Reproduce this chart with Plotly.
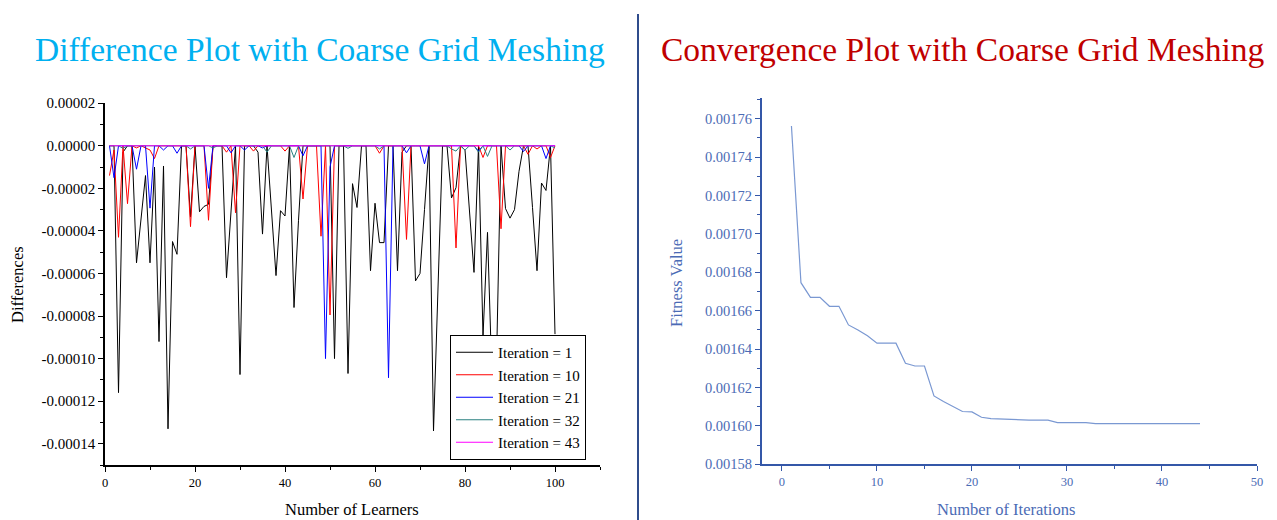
import plotly.graph_objects as go

# ---------------- data ----------------
learners = list(range(1, 101))

# Differences (units of 1e-5)
iter1 = [0, 0, -11.6, -0.3, 0, 0, -5.5, -3.45, -1.4, -5.5,
         -1.0, -9.2, -0.95, -13.3, -4.5, -5.1, 0, 0, -3.35, 0,
         -3.1, -2.85, -2.75, 0, 0, 0, -6.2, -3.0, 0, -10.75,
         0, 0, 0, -0.3, -4.15, 0, -3.0, -6.1, -3.05, -3.3,
         0, -7.6, -3.5, 0, 0, 0, 0, 0, 0, 0,
         -10.0, 0, 0, -10.7, -1.78, -2.9, 0, 0, -5.87, -2.7,
         -4.55, -4.55, 0, 0, -5.87, -0.3, 0, 0, -6.35, -6.0,
         -3.0, 0, -13.4, -6.7, 0, 0, -2.45, -1.97, 0, -0.2,
         -3.0, -5.95, 0, -8.95, -4.07, -11.0, -10.2, 0, -2.95, -3.4,
         -3.0, -1.2, 0, 0, -2.9, -5.87, -1.75, -2.1, 0, -8.85]

iter10 = [-1.4, -0.2, -4.3, 0, -2.72, 0, -0.1, 0, -0.1, -0.2,
          -0.6, 0, 0, 0, 0, 0, 0, 0, -3.8, 0,
          0, 0, -3.5, 0, 0, 0, -0.3, 0, -3.15, 0,
          0, 0, -0.25, 0, 0, 0, 0, 0, 0, -0.25,
          0, 0, 0, -2.5, 0, 0, 0, -4.25, 0, -7.95,
          0, 0, 0, 0, 0, 0, 0, 0, 0, 0,
          -0.35, 0, 0, 0, 0, 0, -4.4, 0, 0, 0,
          0, 0, 0, 0, 0, 0, 0, -4.8, 0, 0,
          0, 0, 0, -0.55, 0, 0, 0, -3.9, 0, 0,
          0, 0, 0, -0.4, 0, -0.15, 0, 0, -0.55, 0]

iter21 = [0, -1.5, 0, 0, 0, 0, -1.1, 0, 0, -2.93,
          0, 0, -0.2, 0, 0, -0.35, 0, 0, 0, 0,
          0, 0, -2.0, 0, 0, 0, 0, -0.33, 0, 0,
          -0.2, 0, 0, 0, -0.1, 0, 0, 0, 0, 0,
          0, 0, 0, -0.47, 0, 0, 0, 0, -10.0, -1.0,
          0, 0, 0, 0, 0, 0, 0, 0, 0, 0,
          0, 0, -10.9, 0, 0, 0, -0.33, 0, 0, 0,
          -0.85, 0, 0, 0, 0, 0, 0, 0, 0, 0,
          0, 0, -0.25, 0, 0, 0, 0, 0, 0, 0,
          0, 0, -0.27, 0, 0, 0, 0, -0.6, 0, 0]

iter32 = [0, 0, 0, -0.12, 0, 0, 0, 0, 0, 0,
          0, 0, 0, 0, 0, 0, 0, 0, -0.15, 0,
          0, 0, 0, -0.1, 0, 0, 0, 0, 0, 0,
          0, 0, 0, 0, 0, -0.3, 0, 0, 0, 0,
          0, -0.55, 0, 0, 0, 0, 0, 0, 0, 0,
          0, 0, 0, -0.12, 0, 0, 0, 0, 0, 0,
          -0.15, 0, 0, 0, 0, 0, 0, 0, 0, 0,
          0, 0, 0, 0, 0, 0, -0.15, -0.25, 0, -0.2,
          0, 0, -0.3, 0, -0.5, 0, 0, 0, 0, -0.2,
          0, 0, 0, 0, 0, 0, 0, 0, 0, -0.1]

iter43 = [0] * 100

series_names = ["Iteration = 1", "Iteration = 10", "Iteration = 21",
                "Iteration = 32", "Iteration = 43"]
series_values = [iter1, iter10, iter21, iter32, iter43]
series_colors = ["#000000", "#FF0000", "#0000FF", "#2A8080", "#FF00FF"]
scale = 1e-5

left_ytick_vals = [0.00002, 0.0, -0.00002, -0.00004, -0.00006, -0.00008,
                   -0.00010, -0.00012, -0.00014]
left_ytick_text = ["0.00002", "0.00000", "-0.00002", "-0.00004", "-0.00006",
                   "-0.00008", "-0.00010", "-0.00012", "-0.00014"]

iterations = list(range(1, 45))
fitness = [0.0017562, 0.0016746, 0.0016670, 0.0016670, 0.0016623, 0.0016623,
           0.0016526, 0.0016500, 0.0016469, 0.0016431, 0.0016431, 0.0016431,
           0.0016326, 0.0016312, 0.0016312, 0.0016156, 0.0016127, 0.0016101,
           0.0016075, 0.0016073, 0.0016045, 0.0016038, 0.0016036, 0.0016033,
           0.0016030, 0.0016030, 0.0016030, 0.0016030, 0.0016017, 0.0016017,
           0.0016017, 0.0016017, 0.0016012, 0.0016012, 0.0016012, 0.0016012,
           0.0016012, 0.0016012, 0.0016012, 0.0016012, 0.0016012, 0.0016012,
           0.0016012, 0.0016012]

# ---------------- figure ----------------
W, H = 1277, 520
SERIF = "Liberation Serif, Times New Roman, serif"
BLUE_AX = "#3457A8"
BLUE_TXT = "#4B6BB5"

fig = go.Figure()
for name, vals, col in zip(series_names, series_values, series_colors):
    fig.add_trace(go.Scatter(
        x=learners, y=[v * scale for v in vals], mode="lines", name=name,
        line=dict(color=col, width=1), xaxis="x", yaxis="y"))

fig.add_trace(go.Scatter(
    x=iterations, y=fitness, mode="lines", showlegend=False,
    line=dict(color="#7A98D2", width=1.2), xaxis="x2", yaxis="y2"))


def px(x):
    return x / W


def py(y):
    return 1 - y / H


fig.update_layout(
    width=W, height=H, margin=dict(l=0, r=0, t=0, b=0, autoexpand=False),
    paper_bgcolor="white", plot_bgcolor="white",
    font=dict(family=SERIF, size=14, color="black"),
    xaxis=dict(domain=[px(105), px(600)], range=[0, 110], anchor="y",
               automargin=False,
               showgrid=False, zeroline=False, showline=True, linecolor="black",
               linewidth=1.5, ticks="outside", ticklen=5, tickcolor="black",
               tickmode="linear", tick0=0, dtick=20,
               minor=dict(ticks="outside", ticklen=3, dtick=10, tick0=0, tickcolor="black"),
               tickfont=dict(family=SERIF, size=12.5, color="black")),
    yaxis=dict(domain=[py(465), py(103)], range=[-0.00015, 0.0000201], anchor="x",
               automargin=False,
               showgrid=False, zeroline=False, showline=True, linecolor="black",
               linewidth=1.5, ticks="outside", ticklen=5, tickcolor="black",
               tickmode="array", tickvals=left_ytick_vals, ticktext=left_ytick_text,
               minor=dict(ticks="outside", ticklen=3, dtick=0.00001, tick0=0, tickcolor="black"),
               tickfont=dict(family=SERIF, size=15, color="black")),
    xaxis2=dict(domain=[px(762), px(1257)], range=[-2.1, 50], anchor="y2",
                automargin=False,
                showgrid=False, zeroline=False, showline=True, linecolor=BLUE_AX,
                linewidth=2, ticks="outside", ticklen=5, tickcolor=BLUE_AX,
                tickmode="linear", tick0=0, dtick=10,
                minor=dict(ticks="outside", ticklen=3, dtick=5, tick0=0, tickcolor=BLUE_AX),
                tickfont=dict(family=SERIF, size=12.5, color=BLUE_TXT)),
    yaxis2=dict(domain=[py(464.3), py(98)], range=[0.00158, 0.0017708], anchor="x2",
                automargin=False,
                showgrid=False, zeroline=False, showline=True, linecolor=BLUE_AX,
                linewidth=2, ticks="outside", ticklen=5, tickcolor=BLUE_AX,
                tickmode="linear", tick0=0.00158, dtick=0.00002, tickformat=".5f",
                minor=dict(ticks="outside", ticklen=3, dtick=0.00001, tick0=0.00158, tickcolor=BLUE_AX),
                tickfont=dict(family=SERIF, size=14.5, color=BLUE_TXT)),
    legend=dict(x=px(586), xanchor="right", y=py(460), yanchor="bottom",
                bgcolor="white", bordercolor="black", borderwidth=1,
                font=dict(family=SERIF, size=15, color="black"),
                itemwidth=37, tracegroupgap=0),
    showlegend=True,
)

annotations = [
    dict(text="Difference Plot with Coarse Grid Meshing", x=px(320), y=py(50),
         xref="paper", yref="paper", showarrow=False, xanchor="center", yanchor="middle",
         font=dict(family=SERIF, size=33.5, color="#00B0F0")),
    dict(text="Convergence Plot with Coarse Grid Meshing", x=px(962), y=py(50),
         xref="paper", yref="paper", showarrow=False, xanchor="center", yanchor="middle",
         font=dict(family=SERIF, size=33.5, color="#C00000")),
    dict(text="Number of Learners", x=px(352), y=py(509), xref="paper", yref="paper",
         showarrow=False, xanchor="center", yanchor="middle",
         font=dict(family=SERIF, size=16.5, color="black")),
    dict(text="Differences", x=px(17), y=py(285), xref="paper", yref="paper",
         showarrow=False, xanchor="center", yanchor="middle", textangle=-90,
         font=dict(family=SERIF, size=16.5, color="black")),
    dict(text="Number of Iterations", x=px(1006), y=py(509), xref="paper", yref="paper",
         showarrow=False, xanchor="center", yanchor="middle",
         font=dict(family=SERIF, size=16.5, color=BLUE_TXT)),
    dict(text="Fitness Value", x=px(676), y=py(283), xref="paper", yref="paper",
         showarrow=False, xanchor="center", yanchor="middle", textangle=-90,
         font=dict(family=SERIF, size=16.5, color=BLUE_TXT)),
]
fig.update_layout(annotations=annotations)

fig.add_shape(type="line", xref="paper", yref="paper",
              x0=px(638), x1=px(638), y0=0, y1=py(14),
              line=dict(color="#2F4C8C", width=2))

fig.write_html("out.html",
               config={"displayModeBar": False},
               post_script="document.body.style.margin='0px';"
                           "document.body.style.overflow='hidden';")
